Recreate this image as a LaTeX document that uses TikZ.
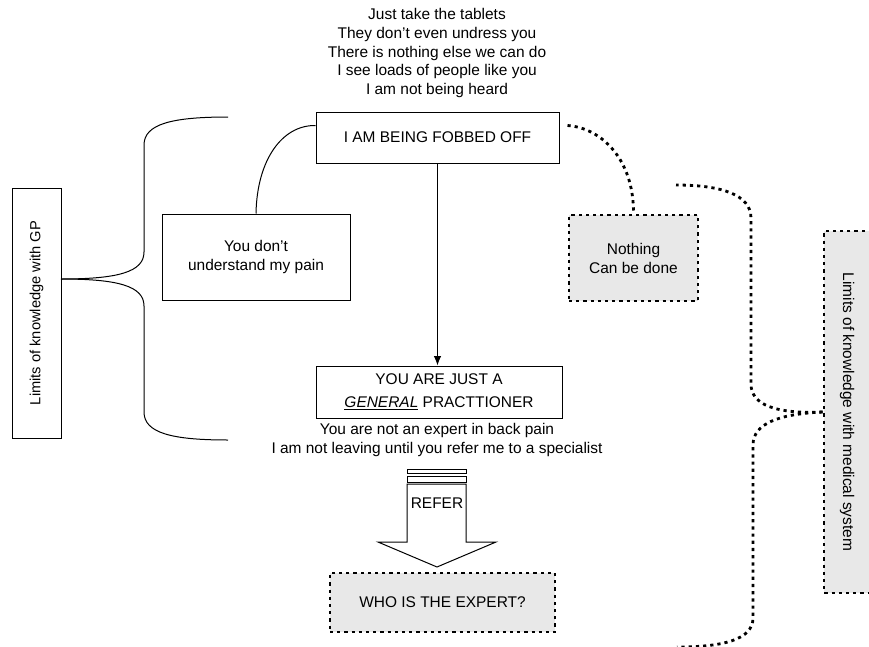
\documentclass[tikz,border=0pt]{standalone}
\usepackage{fontspec}
\setmainfont{Liberation Sans}
\usetikzlibrary{arrows.meta}

\tikzset{every picture/.style={line width=0.75pt}}
\tikzset{
plainbox/.style={draw, align=center, inner sep=2pt, font=\fontsize{11.6}{14.2}\selectfont},
dotline/.style={line width=2.1pt, dash pattern=on 2.4pt off 3pt},
dotbox/.style={plainbox, dotline, fill={rgb, 255:red, 232; green, 232; blue, 232}},
textblock/.style={align=center, inner sep=0pt, font=\fontsize{11.6}{14.2}\selectfont}
}

\begin{document}
\begin{tikzpicture}[x=0.75pt,y=0.75pt,yscale=-1,xscale=1]

\useasboundingbox (0,0) rectangle (869,647);

% TEXTS

\node[textblock] (said) at (437,53) {Just take the tablets\\
They don’t even undress you\\
There is nothing else we can do\\
I see loads of people like you\\
I am not being heard};
\node[textblock] (reasons) at (437,440) {You are not an expert in back pain\\
I am not leaving until you refer me to a specialist};

% BOXES

\node[plainbox, minimum width=182.25pt, minimum height=38.25pt] (fobbed) at (437.5,137.5) {I AM BEING FOBBED OFF};
\node[plainbox, minimum width=141pt, minimum height=64.5pt] (pain) at (256,257) {You don’t\\understand my pain};
\node[plainbox, minimum width=184.5pt, minimum height=39pt, font=\fontsize{11.6}{17}\selectfont] (general) at (439,392) {YOU ARE JUST A\\\underline{\textit{GENERAL}} PRACTTIONER};
\node[plainbox, rotate=90, minimum width=187.5pt, minimum height=36.75pt, font=\fontsize{11}{13}\selectfont] (gp) at (36.5,313) {Limits of knowledge with GP};

\node[dotbox, minimum width=96.75pt, minimum height=64.5pt] (nothing) at (633.5,258) {Nothing\\Can be done};
\node[dotbox, minimum width=168.75pt, minimum height=44.25pt] (expert) at (442.5,602.5) {WHO IS THE EXPERT?};
\node[dotbox, rotate=-90, minimum width=271.5pt, minimum height=34.5pt] (medsys) at (847,412) {Limits of knowledge with medical system};

% REFER ARROW

\node[textblock] (refer) at (437,503) {REFER};
\draw (407,469) rectangle (466,473);
\draw (407,476) rectangle (466,482);
\draw (407,484) -- (407,542) -- (378,542) -- (437,567) -- (496,542) -- (466,542) -- (466,484) -- cycle;

% CONNECTORS

\coordinate (gptip) at (61,279);
\draw [-{Latex[length=7pt,width=5.5pt]}] (fobbed.south) -- (fobbed.south |- general.north);
\draw (pain.north) .. controls (257,160) and (282,125) .. ([shift={(0,-12)}]fobbed.west);
\draw [dotline] ([shift={(8,-12)}]fobbed.east) .. controls (602,128) and (634,160) .. (nothing.north);

% BRACES

\draw (gptip) .. controls (118,279) and (144,272) .. (144,252) -- (144,145) .. controls (144,124) and (172,117) .. (228,117);
\draw (gptip) .. controls (118,279) and (144,286) .. (144,306) -- (144,412) .. controls (144,433) and (172,440) .. (228,440);

\draw [dotline] (medsys.south) .. controls (776,414) and (751,405) .. (751,384) -- (751,218) .. controls (751,195) and (722,185) .. (676,185);
\draw [dotline] (medsys.south) .. controls (778,414) and (753,424) .. (753,445) -- (753,618) .. controls (753,640) and (722,647) .. (677,647);

\end{tikzpicture}
\end{document}
